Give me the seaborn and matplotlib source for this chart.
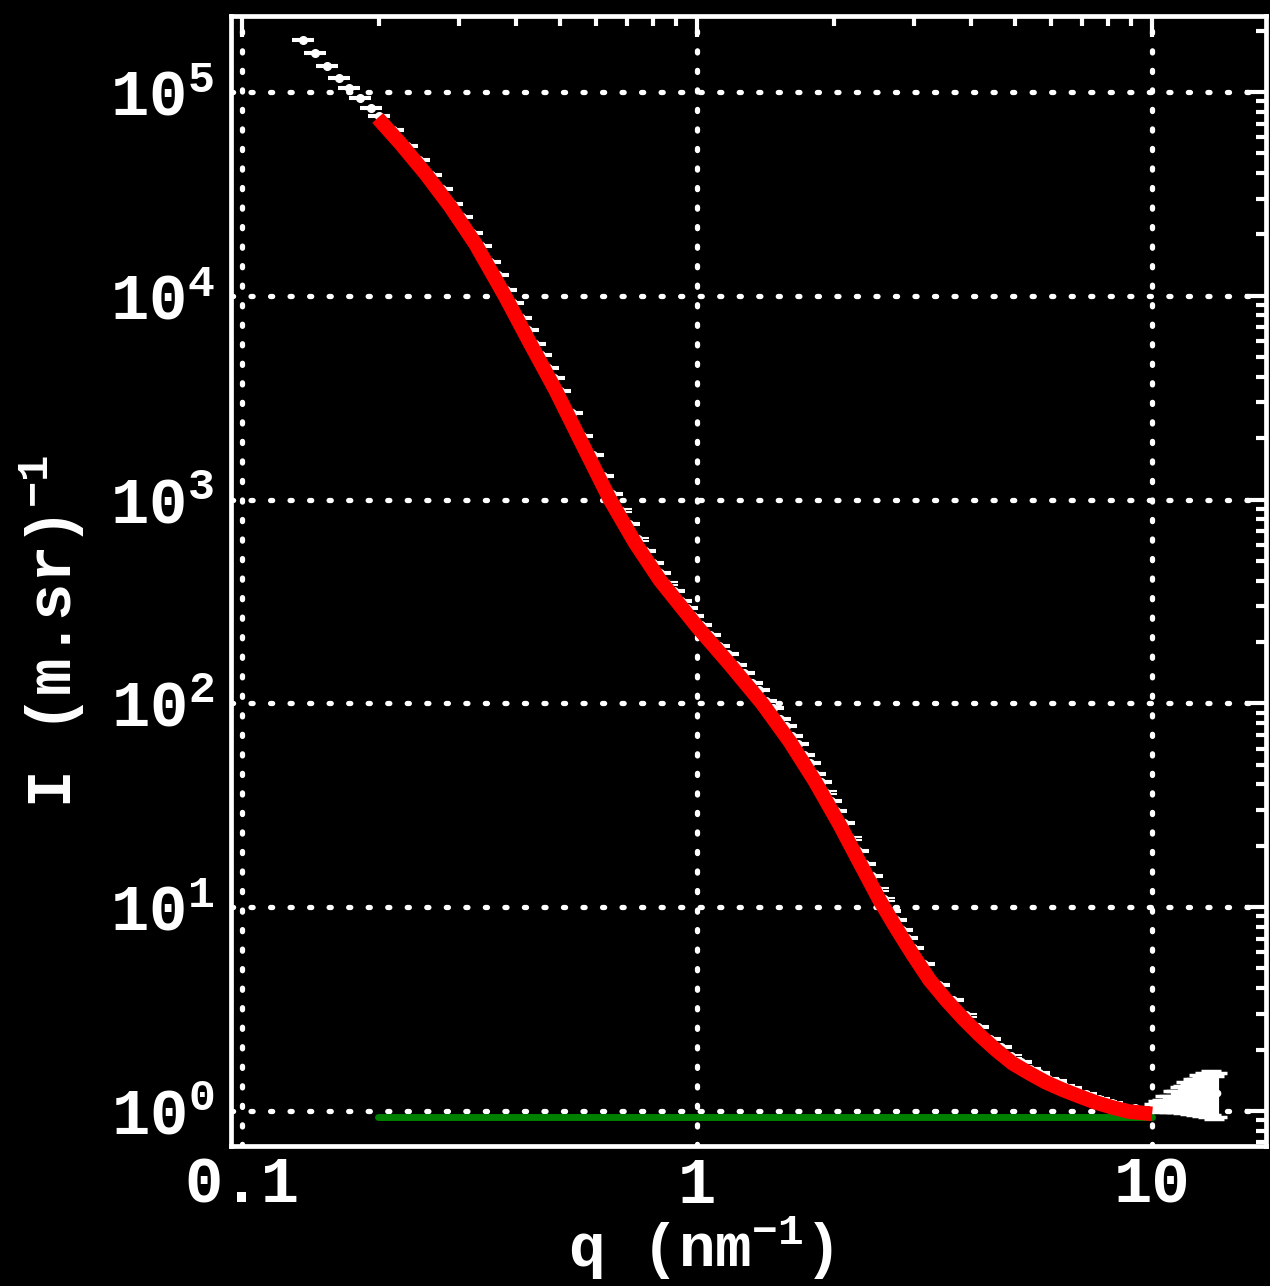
import matplotlib
matplotlib.use("Agg")
import numpy as np
import matplotlib.pyplot as plt
from matplotlib.ticker import LogLocator, NullFormatter, LogFormatterMathtext
import seaborn as sns

# Measured scattering curve, q < 10 nm^-1
q_data = [0.136, 0.145, 0.154, 0.163, 0.172, 0.182, 0.192,
          0.200, 0.215, 0.230, 0.245, 0.260, 0.275, 0.290, 0.305, 0.320, 0.335,
          0.350, 0.365, 0.380, 0.395, 0.410, 0.425, 0.440, 0.455, 0.470, 0.485, 0.500,
          0.53, 0.56, 0.59, 0.62, 0.65, 0.68, 0.71, 0.74, 0.77, 0.80, 0.83, 0.86,
          0.89, 0.92, 0.95, 0.98,
          1.02, 1.07, 1.12, 1.17, 1.22, 1.27, 1.32, 1.37, 1.42, 1.47, 1.52, 1.57,
          1.62, 1.67, 1.72, 1.77, 1.82, 1.87, 1.92, 1.97, 2.02,
          2.10, 2.18, 2.26, 2.34, 2.42, 2.50, 2.58, 2.66, 2.74, 2.82, 2.90, 2.98,
          3.15, 3.40, 3.65, 3.90, 4.15, 4.40, 4.65, 4.90, 5.15, 5.40, 5.65, 5.90,
          6.15, 6.40, 6.65, 6.90, 7.15, 7.40, 7.65, 7.90, 8.15, 8.40, 8.65, 8.90,
          9.15, 9.40, 9.65, 9.90]
I_data = [1.80e5, 1.56e5, 1.34e5, 1.17e5, 1.05e5, 9.35e4, 8.34e4,
          7.59e4, 6.52e4, 5.43e4, 4.63e4, 3.90e4, 3.35e4, 2.83e4, 2.43e4, 2.04e4, 1.76e4,
          1.47e4, 1.26e4, 1.07e4, 9200, 7800, 6790, 5820, 5130, 4430, 3940, 3410,
          2660, 2060, 1650, 1300, 1067, 883, 755, 637, 561, 488, 434, 387,
          355, 319, 294, 267,
          242, 217, 191, 174, 154, 141, 126, 116, 103, 94.4, 83.9, 77.4,
          68.9, 63.0, 55.8, 51.1, 45.2, 41.0, 36.5, 33.2, 29.7,
          25.8, 21.7, 18.9, 16.2, 14.2, 12.2, 10.9, 9.59, 8.65, 7.73, 7.05, 6.31,
          5.26, 4.15, 3.49, 2.94, 2.59, 2.26, 2.06, 1.85, 1.74, 1.61, 1.54, 1.44,
          1.40, 1.32, 1.29, 1.23, 1.21, 1.15, 1.14, 1.10, 1.09, 1.06, 1.05, 1.02,
          1.03, 1.00, 1.01, 0.995]
rel_err = 0.012

# Noisy high-q tail
q_high = [10.1, 10.3, 10.5, 10.7, 10.9, 11.1, 11.3, 11.5, 11.7, 11.9,
          12.1, 12.3, 12.5, 12.7, 12.9, 13.1, 13.3, 13.5, 13.7, 13.9]
I_high = [1.05, 1.07, 1.06, 1.10, 1.09, 1.13, 1.12, 1.16, 1.15, 1.19,
          1.17, 1.21, 1.20, 1.24, 1.21, 1.25, 1.22, 1.26, 1.20, 1.23]
err_high = [0.03, 0.05, 0.07, 0.08, 0.10, 0.12, 0.13, 0.15, 0.17, 0.19,
            0.20, 0.22, 0.24, 0.26, 0.27, 0.28, 0.29, 0.31, 0.29, 0.30]

# Model fit
fit_q = [0.1987, 0.2232, 0.2532, 0.2873, 0.3261, 0.3793, 0.4303, 0.4884, 0.5538,
         0.6444, 0.7313, 0.8294, 1.0, 1.181, 1.395, 1.599, 1.815, 2.059, 2.278,
         2.519, 2.746, 2.981, 3.243, 3.528, 3.837, 4.175, 4.542, 4.939, 5.374,
         5.846, 6.359, 6.917, 7.523, 8.183, 8.906, 10.0]
fit_I = [7.45e4, 5.57e4, 3.97e4, 2.73e4, 1.79e4, 9.87e3, 5.81e3, 3.45e3, 1.96e3,
         995, 612, 401, 238, 155, 98.9, 64.9, 41.5, 25.3, 16.5,
         10.8, 7.82, 5.83, 4.39, 3.50, 2.85, 2.36, 1.99, 1.71, 1.53,
         1.38, 1.27, 1.18, 1.10, 1.04, 0.992, 0.967]

# Flat background level
bg_q = [0.1987, 10.0]
bg_I = [0.934, 0.934]

x_ticks = [0.1, 1, 10]
x_tick_labels = ["0.1", "1", "10"]

sns.set_theme(style="dark", rc={"axes.facecolor": "black", "figure.facecolor": "black"})
plt.rcParams["font.family"] = ["Liberation Mono", "DejaVu Sans"]
plt.rcParams["font.weight"] = "bold"
plt.rcParams["mathtext.default"] = "regular"

fig = plt.figure(figsize=(12.7, 12.86), dpi=100, facecolor="black")
ax = fig.add_axes([0.1819, 0.1089, 0.8150, 0.8787])
ax.set_facecolor("black")
ax.set_xscale("log")
ax.set_yscale("log")

ax.grid(True, which="major", color="white", linestyle=(0, (0.4, 3.3)),
        linewidth=3.8, dash_capstyle="round", zorder=1)
ax.set_axisbelow(True)

err_data = [rel_err * v for v in I_data]
ax.errorbar(q_data, I_data, yerr=err_data, fmt="o", ms=5.5, mfc="white", mec="white",
            ecolor="white", elinewidth=1.2, capsize=8, capthick=1.5, zorder=3)
ax.errorbar(q_high, I_high, yerr=err_high, fmt="o", ms=4.5, mfc="white", mec="white",
            ecolor="white", elinewidth=3.0, capsize=7.5, capthick=2.5, zorder=3)

sns.lineplot(x=bg_q, y=bg_I, ax=ax, color="#008000", lw=5, sort=False,
             estimator=None, zorder=4)
sns.lineplot(x=fit_q, y=fit_I, ax=ax, color="#ff0000", lw=10.5, sort=False,
             estimator=None, zorder=5, solid_capstyle="butt", solid_joinstyle="round")

ax.set_xlim(0.0946, 17.8)
ax.set_ylim(0.673, 2.36e5)

ax.set_xticks(x_ticks, labels=x_tick_labels)
ax.xaxis.set_minor_locator(LogLocator(base=10, subs=np.arange(2, 10), numticks=30))
ax.xaxis.set_minor_formatter(NullFormatter())
ax.yaxis.set_major_locator(LogLocator(base=10, numticks=30))
ax.yaxis.set_major_formatter(LogFormatterMathtext())
ax.yaxis.set_minor_locator(LogLocator(base=10, subs=np.arange(2, 10), numticks=30))
ax.yaxis.set_minor_formatter(NullFormatter())

ax.tick_params(which="both", direction="in", top=True, right=True,
               colors="white", labelcolor="white", labelsize=46)
ax.tick_params(which="major", length=15, width=3)
ax.tick_params(which="minor", length=7, width=3)
ax.tick_params(axis="x", which="major", pad=7)
ax.tick_params(axis="y", which="major", pad=12)
for lab in ax.get_xticklabels() + ax.get_yticklabels():
    lab.set_fontweight("bold")

for s in ax.spines.values():
    s.set_color("white")
    s.set_linewidth(3.4)
    s.set_visible(True)

ax.set_xlabel(r"q (nm$^{-1}$)", fontsize=44, fontweight="bold", color="white")
ax.set_ylabel(r"I (m.sr)$^{-1}$", fontsize=45, fontweight="bold", color="white")
ax.xaxis.set_label_coords(0.454, -0.061)
ax.yaxis.set_label_coords(-0.1395, 0.455)

fig.savefig("out.png", dpi=100, facecolor="black")
